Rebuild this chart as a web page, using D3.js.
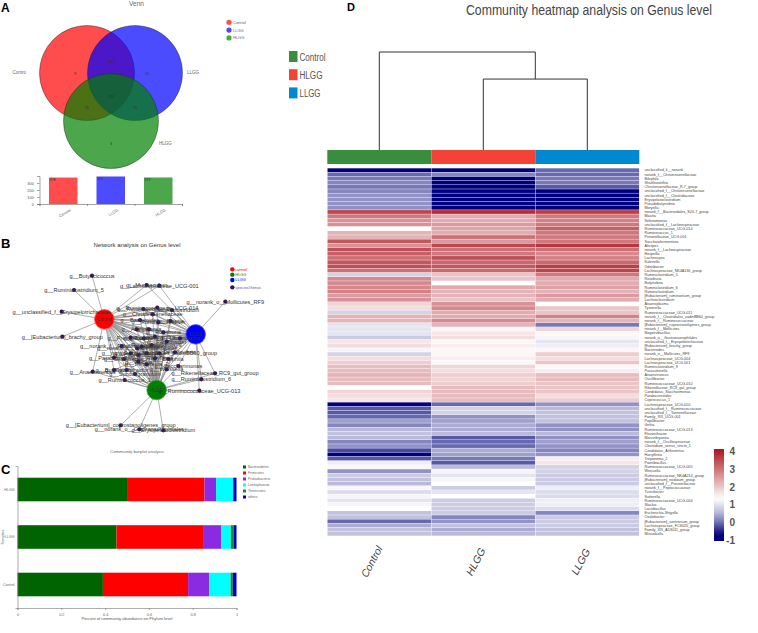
<!DOCTYPE html>
<html><head><meta charset="utf-8">
<script src="https://cdn.jsdelivr.net/npm/d3@7"></script>
<style>html,body{margin:0;padding:0;background:#fff}svg{display:block}text{font-family:"Liberation Sans",Arial,sans-serif}</style>
</head><body><svg id="c" width="758" height="633"></svg>
<script>
// ---------- Panel A data
const vennSets = ["Control","LLGG","HLGG"];
const vennCounts = [378,393,379];
const vennRegionLabels = ["9","12","3","11","15","110","263"];
// ---------- Panel B data (layout, in layout units)
const hubNames = ["Control","LLGG","HLGG"];
const hubX = [313,587,470];
const hubY = [253,298,465];
const netNames = ["g__Butyricicoccus","g__Ruminiclostridium_5","g__unclassified_f__Erysipelotrichaceae","g__[Eubacterium]_brachy_group","g__norank_o__Mollicutes_RF9","g__Lachnospiraceae_UCG-001","g__Muribaculum","g__Rikenellaceae_RC9_gut_group","g__Ruminiclostridium_6","g__Ruminococcaceae_UCG-013","g__[Eubacterium]_coprostanoligenes_group","g__norank_o__Gastranaerophilales","g__Erysipelatoclostridium","g__Anaerotruncus","g__Ruminococcus_1","g__Saccharimonas",
"g__Ruminococcus_2","g__Ruminococcaceae_UCG-014","g__Christensenellaceae","g__Lachnoclostridium","g__Bacteroides","g__Ruminiclostridium","g__Blautia","g__Alistipes","g__Dorea","g__Roseburia","g__Prevotellaceae","g__Roseburia_2","g__Lactobacillus","g__Papillibacter","g__norank_f__Lachnospiraceae","g__norank_f__Ruminococcaceae","g__Tyzzerella","g__Ruminiclostridium_9","g__norank_f__Clostridiales_vadinBB60_group","g__Desulfovibrio","g__Parabacteroides","g__Oscillibacter","g__Slackia","g__Bilophila","g__Butyrivibrio","g__Subdoligranulum","g__Flavonifractor","g__Weissella","g__Gelria","g__Coprococcus_1","g__Harryflintia","g__Treponema_2","g__Sutterella","g__Lachnospira"];
const netX = [276,222,185,187,676,478,440,645,604,598,362,418,490,278,374,535,
430,472,458,516,420,475,512,410,447,490,392,432,465,500,412,365,425,455,478,525,342,372,415,505,342,405,380,500,440,415,465,440,392,540];
const netY = [122,165,230,305,200,152,150,415,433,467,571,583,586,410,435,393,
222,218,238,225,255,262,258,283,283,292,308,310,305,320,340,333,335,330,355,352,368,372,380,372,405,417,405,403,355,360,370,388,355,310];
const netLinks = ["C","C","C","C","L","CL","CL","LH","LH","LH","H","H","H","CH","CH","LH",
"CLH","CLH","CLH","CLH","CLH","CLH","CLH","CLH","CLH","CLH","CLH","CLH","CLH","CLH","CLH","CLH","CLH","CLH","CLH","CLH","CLH","CLH","CLH","CLH","CLH","CLH","CLH","CLH","CLH","CLH","CLH","CLH","CLH","CLH"];
// ---------- Panel C data
const barSamples = ["HLGG","LLGG","Control"];
const phyla = ["Bacteroidetes","Firmicutes","Proteobacteria","Lentisphaerae","Tenericutes","others"];
const hlggPhyla = [.504,.350,.053,.078,.000,.015];
const llggPhyla = [.452,.399,.080,.043,.014,.012];
const controlPhyla = [.390,.389,.096,.098,.010,.017];
const barTicks = [0,.2,.4,.6,.8,1];
// ---------- Panel D data
const heatGroups = ["Control","HLGG","LLGG"];
const genera = ["unclassified_k__norank","norank_f__Christensenellaceae","Bilophila","Shuttleworthia","Christensenellaceae_R-7_group","unclassified_f__Christensenellaceae","unclassified_f__Clostridiaceae","Erysipelatoclostridium","Pseudobutyrivibrio","Moryella","norank_f__Bacteroidales_S24-7_group","Blautia","Selenomonas","unclassified_f__Lachnospiraceae","Ruminococcaceae_UCG-014","Ruminococcus_1","Prevotellaceae_UCG-001","Saccharofermentans","Alistipes","norank_f__Lachnospiraceae","Hespellia","Lachnospira","Kaleriella","Odoribacter","Lachnospiraceae_NK4A136_group","Ruminiclostridium_5","Roseburia","Butyrivibrio","Ruminiclostridium_6","Ruminiclostridium","[Eubacterium]_ruminantium_group","Lachnoclostridium","Anaeroplasma","Tyzzerella","Ruminococcaceae_UCG-011","norank_f__Clostridiales_vadinBB60_group","norank_f__Ruminococcaceae","[Eubacterium]_coprostanoligenes_group","norank_f__Mollicutes","Negativibacillus","norank_o__Gastranaerophilales","unclassified_f__Erysipelotrichaceae","[Eubacterium]_brachy_group","Bacteroides","norank_o__Mollicutes_RF9","Lachnospiraceae_UCG-004","Lachnospiraceae_UCG-001","Ruminiclostridium_9","Parasutterella","Anaerotruncus","Oscillibacter","Ruminococcaceae_UCG-010","Rikenellaceae_RC9_gut_group","Candidatus_Saccharimonas","Parabacteroides","Coprococcus_1","Lachnospiraceae_UCG-010","unclassified_f__Ruminococcaceae","unclassified_f__Tannerellaceae","Family_XIII_UCG-001","Papillibacter","Gelria","Ruminococcaceae_UCG-013","Flavonifractor","Marvinbryantia","norank_f__Oscillospiraceae","Clostridium_sensu_stricto_1","Candidatus_Arthromitus","Harryflintia","Treponema_2","Paenibacillus","Ruminococcaceae_UCG-005","Weissella","Ruminococcaceae_NK4A214_group","[Eubacterium]_nodatum_group","unclassified_f__Prevotellaceae","norank_f__Peptococcaceae","Turicibacter","Sutterella","Ruminococcaceae_UCG-004","Slackia","Lactobacillus","Escherichia-Shigella","Oxalobacter","[Eubacterium]_ventriosum_group","Lachnospiraceae_FCS020_group","Family_XIII_AD3011_group","Mitsuokella"];
const controlVals = [-1,-.1,0,.1,0,.1,.2,.2,.2,.2,3.5,2.9,2.6,2.6,1.3,2.2,2.2,3.3,2.6,3.4,3.2,3,3.3,3.4,3,.8,2.7,2.7,2.7,2.8,2.5,2.6,1.8,1.7,.8,2.2,2.2,1,1,1,.7,1.6,1.7,1.2,.8,1.7,1.9,2.1,2.1,2.2,2.1,2.1,1.3,1.8,1.7,1.6,-1,-.2,-.2,-.1,.3,.1,.5,.6,.5,.1,.2,-.3,-1,-.2,1.1,1.4,.2,.7,.6,.5,1.4,.9,1.2,1,1.2,1.3,.6,.6,-.1,.4,.6,.6];
const hlggVals = [-1,.1,-1,-1,-1,-.95,-1,-1,-1,-1,3.8,2.3,2.3,2.5,2.4,2.3,3,2.5,3.5,3,2.9,3.4,3.1,3.3,3.1,2,2,1.3,2.3,2.2,2.2,2,2.6,2.7,2.3,2.3,2.7,2.2,1.4,1.6,1.7,1.4,1.5,1.4,1.4,1.5,1.4,1.8,1.7,1.9,1.8,1.9,2.1,2.1,2.1,2.1,-.1,.8,.8,.2,.3,.4,.4,.5,-.2,-.1,-.1,.4,.3,0,-.2,.5,1.2,1,1.2,1.3,.7,1,1.3,.7,.7,.7,.7,.1,.2,.6,.4,.5];
const llggVals = [-.1,-.1,0,0,-.2,-1,-1,-1,-1,-1,3.6,2.9,2.8,2.9,3.2,2.9,2.9,2.9,3.7,3,2.7,2.8,3.1,3.6,3.5,2.9,2.3,2.3,2.4,2.2,2.5,2.3,1.3,2,2,2.8,2.2,0,1.8,1.4,1.2,1,1.1,1.4,1.9,1.7,2,1.4,1.5,2.1,2.1,2,2,2,1.7,1.9,.2,.5,.6,.6,.6,.2,.2,.5,.2,.3,.2,.1,.2,1.5,1.6,.8,.8,.7,.7,.7,1.1,.9,.9,1.1,1.1,.9,.1,.7,.7,.7,.6,.6];
const colorTicks = [4,3,2,1,0,-1];

const svg = d3.select("#c");
const txt = (g,x,y,s,size,fill,anchor="start",extra={})=>{
  const t=g.append("text").attr("x",x).attr("y",y).text(s).attr("font-size",size).attr("fill",fill).attr("text-anchor",anchor);
  Object.entries(extra).forEach(([k,v])=>t.attr(k,v)); return t;};

// panel letters
[["A",1,11.5,12],["B",1,248,13],["C",1,474,13],["D",347,11,11]].forEach(d=>txt(svg,d[1],d[2],d[0],d[3],"#000","start",{"font-weight":"bold"}));

// ================= A: Venn
const A = svg.append("g");
txt(A,136.5,6,"Venn",6.5,"#666","middle");
const vx=d3.scaleLinear().domain([0,2]).range([87,135]);
const vennColor=d3.scaleOrdinal(vennSets,["#ff0000","#0000ff","#008000"]);
const vennCx=[0,2,1], vennCy=[0,0,2];
const vy=d3.scaleLinear().domain([0,2]).range([73,121]);
A.selectAll("circle.v").data(vennSets).join("circle").attr("class","v")
 .attr("cx",(d,i)=>vx(vennCx[i])).attr("cy",(d,i)=>vy(vennCy[i])).attr("r",47.5)
 .attr("fill",d=>vennColor(d)).attr("fill-opacity",.7).attr("stroke","#222").attr("stroke-opacity",.7).attr("stroke-width",.6);
const rx=[-.5,2.5,1,0,2,1,1], ry=[0,0,2.95,1.45,1.45,-.5,.96];
A.selectAll("text.r").data(vennRegionLabels).join("text").attr("class","r").attr("text-anchor","middle")
 .attr("x",(d,i)=>vx(rx[i])).attr("y",(d,i)=>vy(ry[i])+1.5).attr("font-size",4).attr("fill","#333").text(d=>d);
txt(A,12.5,74,"Contro",4.5,"#666");
txt(A,187,74,"LLGG",4.5,"#666");
txt(A,159,145,"HLGG",4.5,"#666");
vennSets.forEach((s,i)=>{const y=22.3+i*7.8;
 A.append("circle").attr("cx",229).attr("cy",y).attr("r",2.6).attr("fill",vennColor(s)).attr("fill-opacity",.7);
 txt(A,233,y+1.5,s,4,"#666");});
const bx=d3.scaleBand().domain(vennSets).range([39.5,182]).paddingInner(.4).paddingOuter(.2);
const by=d3.scaleLinear().domain([0,400]).range([204,176]);
A.selectAll("rect.b").data(vennSets).join("rect").attr("class","b").attr("x",d=>bx(d)).attr("width",bx.bandwidth())
 .attr("y",(d,i)=>by(vennCounts[i])).attr("height",(d,i)=>204-by(vennCounts[i])).attr("fill",d=>vennColor(d)).attr("fill-opacity",.7);
A.selectAll("text.bv").data(vennSets).join("text").attr("class","bv").attr("x",d=>bx(d)+.5).attr("y",(d,i)=>by(vennCounts[i])+3.5)
 .attr("font-size",3.6).attr("fill","#333").text((d,i)=>vennCounts[i]);
const ya=A.append("g").attr("transform","translate(39.5,0)").call(d3.axisLeft(by).tickValues([0,100,200,300]).tickSize(2.5));
ya.selectAll("text").attr("font-size",4).attr("fill","#555").attr("font-family","Liberation Sans");ya.selectAll("path,line").attr("stroke","#666").attr("stroke-width",.6);
const xa=A.append("g").attr("transform","translate(0,204)").call(d3.axisBottom(d3.scaleLinear().domain([0,3]).range([39.5,182])).ticks(3).tickFormat("").tickSize(2));
xa.selectAll("path,line").attr("stroke","#666").attr("stroke-width",.6);
vennSets.forEach(s=>{const x=bx(s)+bx.bandwidth()/2+8;txt(A,x,211,s,4,"#666","end",{transform:`rotate(-30 ${x} 211)`});});

// ================= B: Network
const B = svg.append("g");
const nx=d3.scaleLinear().domain([0,840]).range([0,280]);
const ny=d3.scaleLinear().domain([0,675]).range([235,460]);
txt(B,137,247,"Network analysis on Genus level",6,"#333","middle");
txt(B,137,453,"Community barplot analysis",4.4,"#666","middle");
const hubKey={C:0,L:1,H:2};
const edges=netNames.flatMap((n,i)=>netLinks[i].split("").map(k=>({i,h:hubKey[k]})));
B.selectAll("line.e").data(edges).join("line").attr("class","e")
 .attr("x1",d=>nx(netX[d.i])).attr("y1",d=>ny(netY[d.i])).attr("x2",d=>nx(hubX[d.h])).attr("y2",d=>ny(hubY[d.h]))
 .attr("stroke","#8c8c8c").attr("stroke-width",.7);
const hubColor=["#ff0000","#0000ff","#008000"], hubRim=["#ff5050","#5050ff","#40a040"];
B.selectAll("circle.h").data(hubNames).join("circle").attr("class","h").attr("cx",(d,i)=>nx(hubX[i])).attr("cy",(d,i)=>ny(hubY[i])).attr("r",9.8)
 .attr("fill",(d,i)=>hubColor[i]).attr("stroke",(d,i)=>hubRim[i]).attr("stroke-width",.8);
B.selectAll("circle.n").data(netNames).join("circle").attr("class","n").attr("cx",(d,i)=>nx(netX[i])).attr("cy",(d,i)=>ny(netY[i])).attr("r",2.1).attr("fill","#35145f");
B.selectAll("text.n").data(netNames).join("text").attr("class","n").attr("x",(d,i)=>nx(netX[i])).attr("y",(d,i)=>ny(netY[i])+1.9)
 .attr("text-anchor","middle").attr("font-size",5.6).attr("fill","#333").text(d=>d);
B.selectAll("text.h").data(hubNames).join("text").attr("class","h").attr("x",(d,i)=>nx(hubX[i])).attr("y",(d,i)=>ny(hubY[i])+1.6)
 .attr("text-anchor","middle").attr("font-size",4.6).attr("fill","#333").text(d=>d);
const netLegend=["control","HLGG","LLGG","species/Genus"], netLegendColor=["#ff0000","#008000","#0000ff","#6a3fc0"], netLegendDot=["#ff0000","#008000","#0000ff","#35145f"], netLegendY=[103,119,135,157];
netLegend.forEach((s,i)=>{B.append("circle").attr("cx",nx(697)).attr("cy",ny(netLegendY[i])).attr("r",2.2).attr("fill",netLegendDot[i]);
 txt(B,nx(706),ny(netLegendY[i])+1.4,s,3.9,netLegendColor[i]);});

// ================= C: stacked bars
const C = svg.append("g");
const cx=d3.scaleLinear().domain([0,1]).range([17.5,236.5]);
const cy=d3.scalePoint().domain(barSamples).range([489.5,584.5]);
const phylaColor=d3.scaleOrdinal(phyla,["#006400","#ff0000","#8a2be2","#00ffff","#228b22","#0000cd"]);
const rowsC=[hlggPhyla,llggPhyla,controlPhyla];
const stack=d3.stack().keys(phyla.map((p,i)=>i)).value((r,k)=>r[k])(rowsC);
C.selectAll("g.s").data(stack).join("g").attr("class","s").attr("fill",(d,i)=>phylaColor(phyla[i]))
 .selectAll("rect").data(d=>d).join("rect").attr("x",d=>cx(d[0])).attr("width",d=>cx(d[1])-cx(d[0]))
 .attr("y",(d,i)=>cy(barSamples[i])-11.8).attr("height",23.6);
const ca=C.append("g").attr("transform","translate(0,608)").call(d3.axisBottom(cx).tickValues(barTicks).tickFormat(d=>d).tickSize(2));
ca.selectAll("text").attr("font-size",3.8).attr("fill","#666").attr("font-family","Liberation Sans");ca.selectAll("path,line").attr("stroke","#777").attr("stroke-width",.6);
const cya=C.append("g").attr("transform","translate(17.5,0)").call(d3.axisLeft(d3.scaleLinear().domain([0,1]).range([608,466])).tickValues([]).tickSizeOuter(2));
cya.selectAll("path").attr("stroke","#777").attr("stroke-width",.6);
barSamples.forEach(s=>txt(C,14.5,cy(s)+1.3,s,3.6,"#666","end"));
txt(C,3.5,537,"Samples",3.8,"#666","middle",{transform:"rotate(-90 3.5 537)"});
txt(C,127,620,"Percent of community abundance on Phylum level",4.1,"#555","middle");
phyla.forEach((p,i)=>{const y=465.5+i*6;C.append("rect").attr("x",243).attr("y",y).attr("width",3).attr("height",3).attr("fill",phylaColor(p));txt(C,248,y+2.8,p,3.4,"#666");});

// ================= D: heatmap
const D = svg.append("g");
txt(D,589,15,"Community heatmap analysis on Genus level",14,"#444","middle",{textLength:246,lengthAdjust:"spacingAndGlyphs"});
const gx=d3.scaleBand().domain(heatGroups).range([327.3,639.3]);
const gy=d3.scaleBand().domain(d3.range(genera.length)).range([168.3,535.7]).paddingInner(.1);
const groupColor=d3.scaleOrdinal(heatGroups,["#388e3c","#f44336","#0288d1"]);
const heatColor=d3.scaleLinear().domain([-1,-.75,0,.5,1.3,4]).range(["#00007f","#00007f","#7878b8","#b9b9da","#ffffff","#ae1c26"]);
const cols=[controlVals,hlggVals,llggVals];
const colLabelDx=[-7,-7,-6];
heatGroups.forEach((g,c)=>{
 D.append("rect").attr("x",gx(g)).attr("y",150).attr("width",gx.bandwidth()).attr("height",14).attr("fill",groupColor(g));
 D.selectAll("rect.c"+c).data(cols[c]).join("rect").attr("class","c"+c).attr("x",gx(g)+.2).attr("width",gx.bandwidth()-.4)
  .attr("y",(d,i)=>gy(i)).attr("height",gy.bandwidth()).attr("fill",d=>heatColor(d));
 const x=gx(g)+gx.bandwidth()/2+colLabelDx[c];
 txt(D,x,565,g,10.5,"#444","middle",{transform:`rotate(-62 ${x} 562)`,"font-style":"italic"});
});
D.selectAll("text.g").data(genera).join("text").attr("class","g").attr("x",644.5).attr("y",(d,i)=>gy(i)+gy.bandwidth()/2+1.3)
 .attr("font-size",3.7).attr("fill","#444").text(d=>d);
// dendrogram
const mid=g=>gx(g)+gx.bandwidth()/2;
const dh=d3.scaleLinear().domain([0,1]).range([150,52]);
const inner=(mid("HLGG")+mid("LLGG"))/2;
const link=d3.line();
D.append("path").attr("fill","none").attr("stroke","#333").attr("stroke-width",1)
 .attr("d",link([[mid("HLGG"),dh(0)],[mid("HLGG"),dh(.724)],[mid("LLGG"),dh(.724)],[mid("LLGG"),dh(0)]])+link([[mid("Control"),dh(0)],[mid("Control"),dh(1)],[inner,dh(1)],[inner,dh(.724)]]));
heatGroups.forEach((g,i)=>{const y=51+i*18.2;
 D.append("rect").attr("x",289).attr("y",y).attr("width",8.5).attr("height",11).attr("fill",groupColor(g));
 txt(D,299.5,y+9.5,g,10,"#555","start",{textLength:[26,23,21][i],lengthAdjust:"spacingAndGlyphs"});});
// colour bar
const cb=d3.scaleLinear().domain([-1,4]).range([540,451]);
const defs=svg.append("defs").append("linearGradient").attr("id","cbg").attr("x1",0).attr("x2",0).attr("y1",1).attr("y2",0);
d3.range(0,1.001,.05).forEach(t=>defs.append("stop").attr("offset",t).attr("stop-color",heatColor(-1.1+t*5.2)));
D.append("rect").attr("x",714).attr("y",449).attr("width",10).attr("height",92).attr("fill","url(#cbg)");
colorTicks.forEach(v=>txt(D,735,cb(v)+4,v,10,"#555","end",{"font-weight":"bold"}));
</script></body></html>
